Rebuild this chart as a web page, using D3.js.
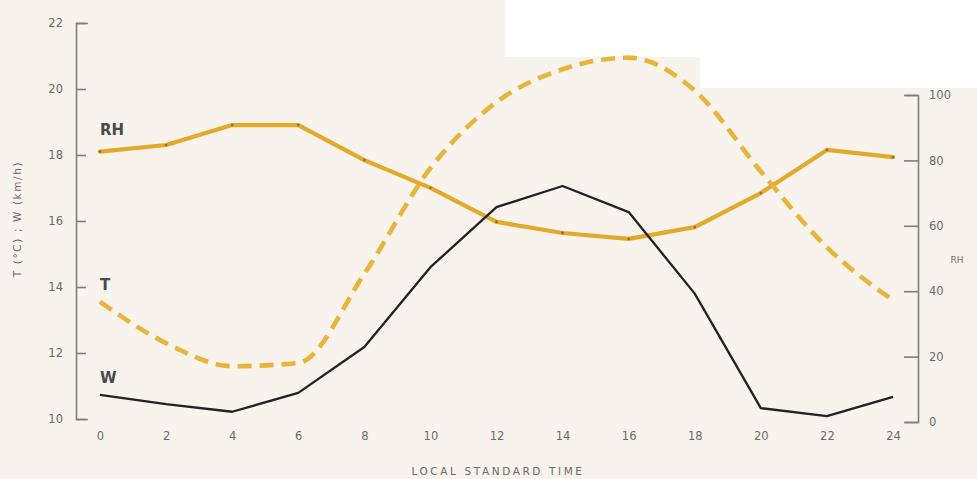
<!DOCTYPE html>
<html>
<head>
<meta charset="utf-8">
<script src="https://cdn.jsdelivr.net/npm/d3@7"></script>
<style>
  html, body { margin: 0; padding: 0; background: #f8f3ed; }
  svg { display: block; }
  .tick text { font-family: "DejaVu Sans", sans-serif; fill: #6a6a6a; }
</style>
</head>
<body>
<svg id="chart" width="977" height="479"></svg>
<script>
// Hour of day (local standard time)
const hours = [0, 2, 4, 6, 8, 10, 12, 14, 16, 18, 20, 22, 24];
// Air temperature, °C (left axis)
const temperature = [13.55, 12.3, 11.6, 11.7, 14.4, 17.6, 19.6, 20.6, 20.95, 19.95, 17.5, 15.2, 13.6];
// Wind speed, km/h (left axis)
const wind = [10.73, 10.45, 10.22, 10.79, 12.18, 14.6, 16.42, 17.06, 16.27, 13.8, 10.33, 10.09, 10.67];
// Relative humidity, % (right axis)
const humidity = [82.7, 84.7, 90.8, 90.8, 80.1, 71.6, 61.2, 57.8, 56.0, 59.6, 70.0, 83.2, 81.0];

const leftTicks = [10, 12, 14, 16, 18, 20, 22];
const rightTicks = [0, 20, 40, 60, 80, 100];
const hourTicks = [0, 2, 4, 6, 8, 10, 12, 14, 16, 18, 20, 22, 24];

const svg = d3.select("#chart");

// paper tones: cream sheet with a lighter patch in the upper right
svg.append("rect").attr("x", 0).attr("y", 0).attr("width", 977).attr("height", 479).attr("fill", "#f8f3ed");
svg.append("rect").attr("x", 505).attr("y", 0).attr("width", 472).attr("height", 57).attr("fill", "#ffffff");
svg.append("rect").attr("x", 700).attr("y", 56).attr("width", 277).attr("height", 32).attr("fill", "#ffffff");

const x = d3.scaleLinear().domain([0, 24]).range([100, 893]);
const yLeft = d3.scaleLinear().domain([10, 22]).range([419, 23]);
const yRight = d3.scaleLinear().domain([0, 100]).range([422, 95]);

// left axis
const gL = svg.append("g").attr("transform", "translate(76,0)")
  .call(d3.axisLeft(yLeft).tickValues(leftTicks).tickSize(-10).tickSizeOuter(-12).tickPadding(13));
gL.selectAll("path, line").attr("stroke", "#7d7d7d").attr("stroke-width", 1.6);
gL.selectAll("text").attr("font-size", 11.5);

// right axis
const gR = svg.append("g").attr("transform", "translate(918,0)")
  .call(d3.axisRight(yRight).tickValues(rightTicks).tickSize(-14).tickSizeOuter(-13).tickPadding(11));
gR.selectAll("path, line").attr("stroke", "#7d7d7d").attr("stroke-width", 1.6);
gR.selectAll("text").attr("font-size", 11.5);

// hour labels (no axis line)
const gB = svg.append("g").attr("transform", "translate(0,430)")
  .call(d3.axisBottom(x).tickValues(hourTicks).tickSize(0).tickPadding(2));
gB.select(".domain").remove();
gB.selectAll("text").attr("font-size", 11.5);

// axis titles
svg.append("text")
  .attr("transform", "translate(21,219) rotate(-90)")
  .attr("text-anchor", "middle")
  .attr("font-family", "DejaVu Sans, sans-serif")
  .attr("font-size", 10.5).attr("letter-spacing", 1.6).attr("fill", "#6a6a6a")
  .text("T (°C) ; W (km/h)");

svg.append("text")
  .attr("x", 957).attr("y", 263)
  .attr("text-anchor", "middle")
  .attr("font-family", "DejaVu Sans, sans-serif")
  .attr("font-size", 9).attr("fill", "#6a6a6a")
  .text("RH");

svg.append("text")
  .attr("x", 498).attr("y", 475)
  .attr("text-anchor", "middle")
  .attr("font-family", "DejaVu Sans, sans-serif")
  .attr("font-size", 10.5).attr("letter-spacing", 2.6).attr("fill", "#6a6a6a")
  .text("LOCAL STANDARD TIME");

// series
const lineT = d3.line().x((d, i) => x(hours[i])).y(d => yLeft(d)).curve(d3.curveMonotoneX);
const lineW = d3.line().x((d, i) => x(hours[i])).y(d => yLeft(d));
const lineRH = d3.line().x((d, i) => x(hours[i])).y(d => yRight(d));

svg.append("path").datum(humidity).attr("d", lineRH)
  .attr("fill", "none").attr("stroke", "#e3a92a").attr("stroke-width", 4.2)
  .attr("stroke-linejoin", "round").attr("stroke-linecap", "round");
svg.selectAll(".rhdot").data(humidity).enter().append("circle")
  .attr("cx", (d, i) => x(hours[i])).attr("cy", d => yRight(d)).attr("r", 1.4)
  .attr("fill", "#9c6f1a");

svg.append("path").datum(temperature).attr("d", lineT)
  .attr("fill", "none").attr("stroke", "#e9b43a").attr("stroke-width", 4.6)
  .attr("stroke-dasharray", "14,8");

svg.append("path").datum(wind).attr("d", lineW)
  .attr("fill", "none").attr("stroke", "#222222").attr("stroke-width", 2.3)
  .attr("stroke-linejoin", "round");

// series labels
const lab = [
  { t: "RH", x: 100, y: 135 },
  { t: "T", x: 100, y: 290 },
  { t: "W", x: 100, y: 383 }
];
svg.selectAll(".lab").data(lab).enter().append("text")
  .attr("x", d => d.x).attr("y", d => d.y)
  .attr("font-family", "DejaVu Sans, sans-serif").attr("font-weight", "bold")
  .attr("font-size", 15).attr("fill", "#4a4a4a")
  .text(d => d.t);
</script>
</body>
</html>
